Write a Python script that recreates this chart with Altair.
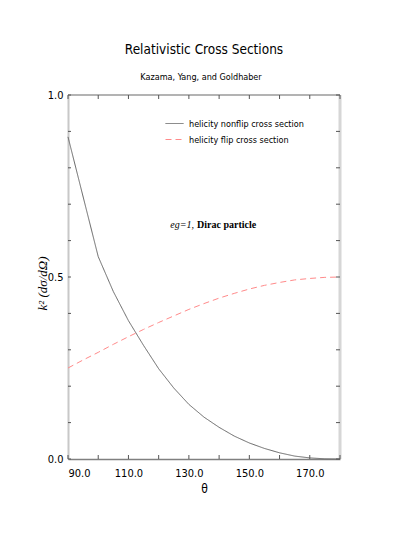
import altair as alt
import pandas as pd

TITLE = "Relativistic Cross Sections"
SUBTITLE = "Kazama, Yang, and Goldhaber"
X_TITLE = "θ"
Y_TITLE = "k² (dσ/dΩ)"
ANNOT_ITALIC = "eg=1,"
ANNOT_BOLD = "Dirac particle"

series_names = ["helicity nonflip cross section", "helicity flip cross section"]

nonflip_theta = [90, 100, 105, 110, 115, 120, 125, 130, 135, 140, 145, 150, 155, 160, 165, 170, 175, 180]
nonflip_vals = [0.885, 0.556, 0.46, 0.38, 0.312, 0.248, 0.195, 0.150, 0.115, 0.087, 0.063, 0.044, 0.029, 0.017, 0.008, 0.003, 0.0005, 0.0]

flip_theta = [90, 95, 100, 105, 110, 115, 120, 125, 130, 135, 140, 145, 150, 155, 160, 165, 170, 175, 180]
flip_vals = [0.25, 0.272, 0.293, 0.315, 0.336, 0.356, 0.375, 0.393, 0.411, 0.427, 0.442, 0.455, 0.467, 0.477, 0.485, 0.492, 0.496, 0.499, 0.5]

x_tick_vals = [90, 100, 110, 120, 130, 140, 150, 160, 170, 180]
x_label_vals = [90, 110, 130, 150, 170]
y_tick_vals = [0.0, 0.1, 0.2, 0.3, 0.4, 0.5, 0.6, 0.7, 0.8, 0.9, 1.0]
y_label_vals = [0.0, 0.5, 1.0]

W, H = 272, 364
NARROW = "Liberation Sans Narrow, DejaVu Sans Condensed, sans-serif"
SERIF = "Liberation Serif, DejaVu Serif, serif"

rows = []
for t, v in zip(nonflip_theta, nonflip_vals):
    rows.append({"theta": t, "value": v, "series": series_names[0]})
for t, v in zip(flip_theta, flip_vals):
    rows.append({"theta": t, "value": v, "series": series_names[1]})
df = pd.DataFrame(rows)

xs = alt.Scale(domain=[90, 180], nice=False, zero=False)
ys = alt.Scale(domain=[0, 1], nice=False, zero=False)

x_axis = alt.Axis(
    values=x_label_vals, format=".1f", ticks=False, grid=False,
    domainColor="#808080", domainWidth=1.5, labelFont=NARROW, labelFontSize=11,
    labelColor="#000", labelPadding=8, title=X_TITLE, titleFont=NARROW,
    titleFontSize=12, titleFontWeight="normal", titlePadding=5, titleColor="#000")
y_axis = alt.Axis(
    values=y_label_vals, format=".1f", ticks=False, grid=False,
    domainColor="#c8c8c8", domainWidth=2, labelFont=NARROW, labelFontSize=11,
    labelColor="#000", labelPadding=5, title=Y_TITLE, titleFont=SERIF,
    titleFontStyle="italic", titleFontWeight="normal", titleFontSize=13,
    titleX=-26, titleY=188, titleAngle=270, titleAlign="center",
    titleBaseline="middle", titleColor="#000")

legend = alt.Legend(title=None, orient="none", legendX=97, legendY=19,
                    symbolType="stroke", symbolSize=324, symbolStrokeWidth=1,
                    labelFont=NARROW, labelFontSize=9, labelColor="#000",
                    labelOffset=5, rowPadding=1)

lines = alt.Chart(df).mark_line(strokeWidth=1).encode(
    x=alt.X("theta:Q", scale=xs, axis=x_axis),
    y=alt.Y("value:Q", scale=ys, axis=y_axis),
    color=alt.Color("series:N", scale=alt.Scale(domain=series_names, range=["#666666", "#ff8a8a"]),
                    legend=legend),
    strokeDash=alt.StrokeDash("series:N", scale=alt.Scale(domain=series_names, range=[[1, 0], [6, 4]]),
                              legend=legend),
    order="theta:Q",
)

xt = pd.DataFrame({"theta": x_tick_vals})
yt = pd.DataFrame({"value": y_tick_vals})
tick_col = "#555"

bottom_ticks = alt.Chart(xt).mark_rule(color=tick_col, strokeWidth=1).encode(
    x=alt.X("theta:Q", scale=xs, axis=x_axis), y=alt.value(H), y2=alt.value(H - 4))
top_ticks = alt.Chart(xt).mark_rule(color=tick_col, strokeWidth=1).encode(
    x=alt.X("theta:Q", scale=xs, axis=x_axis), y=alt.value(0), y2=alt.value(4))
left_ticks = alt.Chart(yt).mark_rule(color=tick_col, strokeWidth=1).encode(
    y=alt.Y("value:Q", scale=ys, axis=y_axis), x=alt.value(0), x2=alt.value(3))
right_ticks = alt.Chart(yt).mark_rule(color=tick_col, strokeWidth=1).encode(
    y=alt.Y("value:Q", scale=ys, axis=y_axis), x=alt.value(W), x2=alt.value(W - 4))

top_border = alt.Chart(pd.DataFrame({"a": [0]})).mark_rule(color="#9a9a9a", strokeWidth=1.5).encode(
    x=alt.value(0), x2=alt.value(W), y=alt.value(0))
right_border = alt.Chart(pd.DataFrame({"a": [0]})).mark_rule(color="#d6d6d6", strokeWidth=3).encode(
    x=alt.value(W), y=alt.value(0), y2=alt.value(H))

def label(text, x, y, size, font, weight="normal", style="normal", align="center"):
    return alt.Chart(pd.DataFrame({"t": [text]})).mark_text(
        font=font, fontSize=size, fontWeight=weight, fontStyle=style, align=align,
        baseline="middle", color="#000").encode(text="t:N", x=alt.value(x), y=alt.value(y))

title = label(TITLE, 136, -45, 13.5, NARROW)
subtitle = label(SUBTITLE, 133, -18, 9, NARROW)
annot1 = label(ANNOT_ITALIC, 126, 130, 10, SERIF, style="italic", align="right")
annot2 = label(ANNOT_BOLD, 129, 130, 10, SERIF, weight="bold", align="left")

chart = alt.layer(
    right_border, top_border, lines, bottom_ticks, top_ticks, left_ticks, right_ticks,
    title, subtitle, annot1, annot2
).properties(
    width=W, height=H,
    autosize=alt.AutoSizeParams(type="none"),
    padding={"left": 60, "top": 87, "right": 60, "bottom": 70},
    background="white",
).configure_view(stroke=None)

chart.save("out.html", embed_options={"renderer": "svg", "actions": False})
